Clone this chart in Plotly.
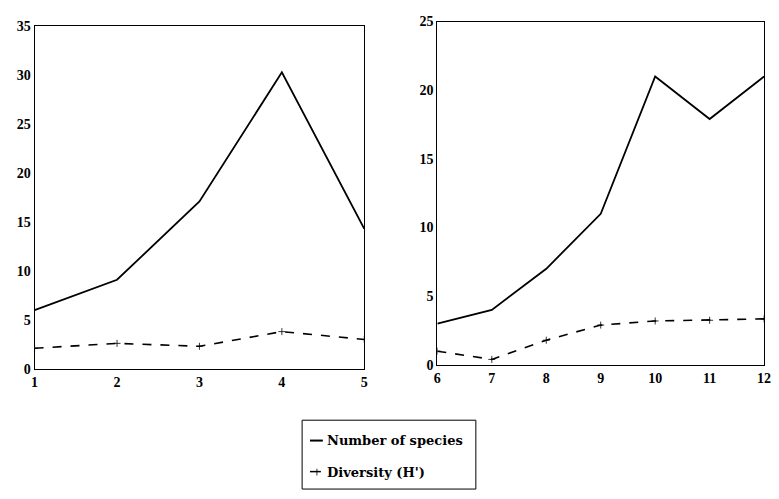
import plotly.graph_objects as go

# Left panel data
x_left = [1, 2, 3, 4, 5]
species_left = [6, 9.1, 17.1, 30.3, 14.3]
diversity_left = [2.1, 2.6, 2.3, 3.8, 3.0]

# Right panel data
x_right = [6, 7, 8, 9, 10, 11, 12]
species_right = [3.0, 4.0, 7.0, 11.0, 21.0, 17.9, 21.0]
diversity_right = [1.0, 0.4, 1.8, 2.9, 3.2, 3.25, 3.35]

yticks_left = [0, 5, 10, 15, 20, 25, 30, 35]
yticks_right = [0, 5, 10, 15, 20, 25]

legend_labels = ["Number of species", "Diversity (H')"]

FONT = "Liberation Serif"
LEG_FONT = "DejaVu Serif"
W, H = 779, 499


def px(x):
    return x / W


def py(y):
    return (H - y) / H


fig = go.Figure()
fig.add_trace(go.Scatter(x=x_left, y=species_left, mode="lines", name=legend_labels[0],
                         line=dict(color="black", width=1.8), xaxis="x", yaxis="y",
                         showlegend=False))
fig.add_trace(go.Scatter(x=x_left, y=diversity_left, mode="lines+markers", name=legend_labels[1],
                         line=dict(color="black", width=1.6, dash="dash"),
                         marker=dict(symbol="cross-thin", size=5, line=dict(width=0.8, color="black")),
                         xaxis="x", yaxis="y", showlegend=False))
fig.add_trace(go.Scatter(x=x_right, y=species_right, mode="lines", name=legend_labels[0],
                         line=dict(color="black", width=1.8), xaxis="x2", yaxis="y2",
                         showlegend=False))
fig.add_trace(go.Scatter(x=x_right, y=diversity_right, mode="lines+markers", name=legend_labels[1],
                         line=dict(color="black", width=1.6, dash="dash"),
                         marker=dict(symbol="cross-thin", size=5, line=dict(width=0.8, color="black")),
                         xaxis="x2", yaxis="y2", showlegend=False))

axis_common = dict(showline=True, mirror=True, linecolor="black", linewidth=1,
                   showgrid=False, zeroline=False, ticks="",
                   tickfont=dict(family=FONT, size=14, color="black", weight="bold"))

shapes = [
    # legend box
    dict(type="rect", xref="paper", yref="paper", x0=px(303), x1=px(479), y0=py(497), y1=py(426),
         line=dict(color="black", width=1), fillcolor="white"),
    # solid symbol
    dict(type="line", xref="paper", yref="paper", x0=px(311), x1=px(324), y0=py(447), y1=py(447),
         line=dict(color="black", width=2)),
    # dashed symbol
    dict(type="line", xref="paper", yref="paper", x0=px(311), x1=px(322), y0=py(479), y1=py(479),
         line=dict(color="black", width=1.5)),
    dict(type="line", xref="paper", yref="paper", x0=px(318), x1=px(318), y0=py(476), y1=py(483),
         line=dict(color="black", width=0.8)),
]

annotations = [
    dict(text=legend_labels[0], xref="paper", yref="paper", x=px(326), y=py(447),
         xanchor="left", yanchor="middle", showarrow=False,
         font=dict(family=LEG_FONT, size=13, color="black", weight="bold")),
    dict(text=legend_labels[1], xref="paper", yref="paper", x=px(326), y=py(480),
         xanchor="left", yanchor="middle", showarrow=False,
         font=dict(family=LEG_FONT, size=13, color="black", weight="bold")),
]

fig.update_layout(
    width=W, height=H,
    margin=dict(l=0, r=0, t=0, b=0),
    paper_bgcolor="white", plot_bgcolor="white",
    font=dict(family=FONT, size=14, color="black"),
    showlegend=False,
    xaxis=dict(domain=[px(32), px(366)], range=[1, 5], tickvals=x_left, anchor="y", **axis_common),
    yaxis=dict(domain=[py(373), py(20)], range=[0, 35], tickvals=yticks_left, anchor="x", **axis_common),
    xaxis2=dict(domain=[px(440), px(771)], range=[6, 12], tickvals=x_right, anchor="y2", **axis_common),
    yaxis2=dict(domain=[py(369), py(15)], range=[0, 25], tickvals=yticks_right, anchor="x2", **axis_common),
    shapes=shapes,
    annotations=annotations,
)

fig.write_html("out.html")
